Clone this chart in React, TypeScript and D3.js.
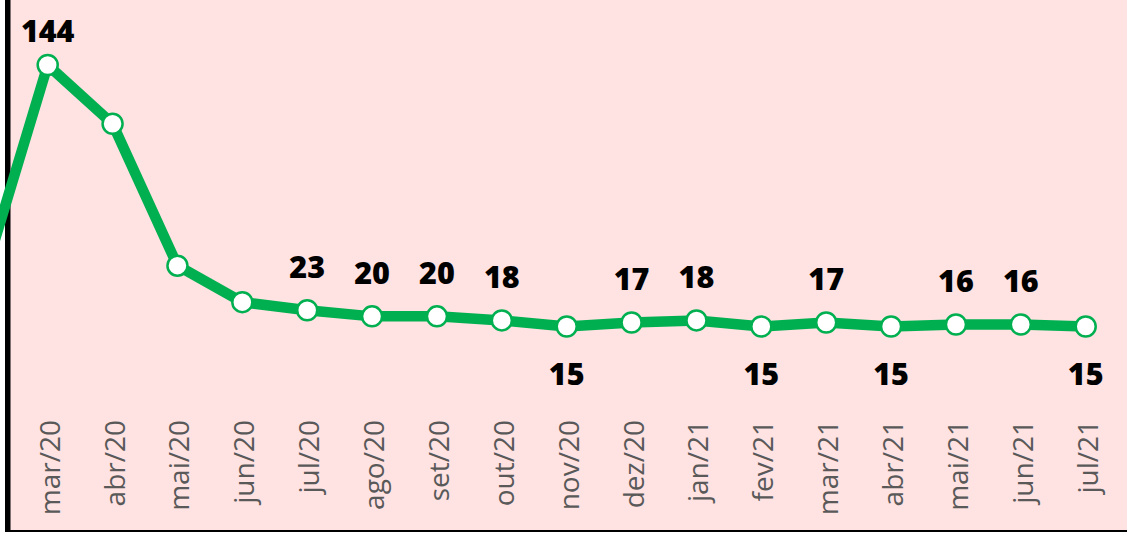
import React from "react";
import * as d3 from "d3";

const months = ["mar/20","abr/20","mai/20","jun/20","jul/20","ago/20","set/20","out/20","nov/20","dez/20","jan/21","fev/21","mar/21","abr/21","mai/21","jun/21","jul/21"];
const values = [144, 115, 45, 27, 23, 20, 20, 18, 15, 17, 18, 15, 17, 15, 16, 16, 15];
// value of the previous month (fev/20), whose point lies outside the visible area
const previousValue = 38;
const labelSide = ["above","none","none","none","above","above","above","above","below","above","above","below","above","below","above","above","below"];

const W = 1127;
const H = 533;
const GREEN = "#00B050";

export default function App() {
  const x = d3.scaleLinear().domain([0, months.length - 1]).range([47.7, 1085.7]);
  const y = d3.scaleLinear().domain([0, 144]).range([356.9, 65]);
  const pts: [number, number][] = [[-1, previousValue], ...values.map((v, i) => [i, v] as [number, number])];
  const line = d3.line<[number, number]>().x(d => x(d[0])).y(d => y(d[1]));

  return (
    <svg width={W} height={H} style={{ position: "absolute", left: 0, top: 0, display: "block" }}>
      <rect x={0} y={0} width={W} height={H} fill="#ffffff" />
      <rect x={10} y={0} width={W - 10} height={530} fill="#FFE2E2" />
      <rect x={5} y={0} width={5.5} height={532} fill="#000" />
      <line x1={5} x2={W} y1={531} y2={531} stroke="#000" strokeWidth={2} />
      <path d={line(pts) || ""} fill="none" stroke={GREEN} strokeWidth={10.5} strokeLinejoin="round" />
      {values.map((v, i) => (
        <circle key={"c" + i} cx={x(i)} cy={y(v)} r={10} fill="#fff" stroke={GREEN} strokeWidth={2.5} />
      ))}
      {values.map((v, i) => {
        const side = labelSide[i];
        if (side === "none") return null;
        let by = side === "above" ? y(v) - 32 : y(v) + 59;
        if (i === 0) by = y(v) - 23;
        return (
          <text key={"l" + i} x={x(i)} y={by} textAnchor="middle" fontFamily="'Open Sans', sans-serif" fontWeight={800} fontSize={30.5} fill="#000">
            {String(v)}
          </text>
        );
      })}
      {months.map((m, i) => (
        <text key={"m" + i} transform={`translate(${x(i) + 12},420) rotate(-90)`} textAnchor="end" fontFamily="'Open Sans', sans-serif" fontSize={28} fill="#595959">
          {m}
        </text>
      ))}
    </svg>
  );
}
